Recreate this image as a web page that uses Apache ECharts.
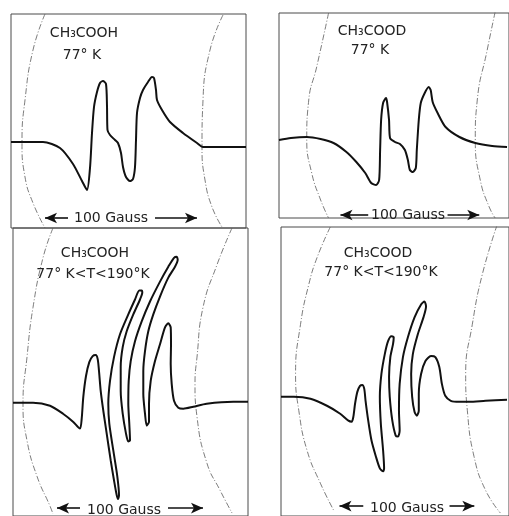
<!DOCTYPE html>
<html>
<head>
<meta charset="utf-8">
<script src="https://cdn.jsdelivr.net/npm/echarts@6/dist/echarts.min.js"></script>
<style>html,body{margin:0;padding:0;background:#fff}#c{width:509px;height:516px}</style>
</head>
<body>
<div id="c"></div>
<script>
// Panel-local values: [field position, signal] in chart-paper units
const tlCurve = [[0,86],[32,86],[49,80],[62,64],[71,47],[76,38],[79,60],[81,95],[83,121],[86,136],[89,145],[92,147],[95,144],[96,122],[96.5,98],[99,93],[104,88],[107,85],[110,75],[112,61],[115,51],[119,47],[122,49],[124,61],[125,88],[126,115],[129,130],[132,138],[137,146],[141,151],[143,150],[145,138],[146,128],[151,118],[159,106],[172,95],[186,85],[192,81],[206,81],[235,81]];
const tlArcL = [[34,214],[22,178],[14,128],[11,86],[14,51],[22,25],[34,0]];
const tlArcR = [[212,213],[199,178],[192,128],[191,81],[194,48],[201,21],[211,1]];

const trCurve = [[0,78],[12,80],[28,81],[42,79],[55,75],[68,66],[78,56],[87,45],[93,35],[98,33],[101,38],[102,68],[103,98],[105,115],[108,120],[109,116],[111,98],[112,80],[117,76],[122,74],[127,68],[130,58],[132,48],[135,46],[138,50],[139,68],[141,98],[143,115],[147,125],[151,131],[153,128],[155,116],[160,105],[168,91],[182,81],[198,75],[215,72],[230,71]];
const trArcL = [[50,205],[38,151],[30,118],[28,78],[33,45],[42,18],[50,0]];
const trArcR = [[218,206],[210,168],[200,118],[198,78],[203,38],[212,11],[218,0]];

const blCurve = [[0,112],[20,112],[37,109],[50,101],[60,93],[67,86],[68.7,96],[70.3,118],[73,139],[76.3,153],[79.7,159],[82.7,160],[84.7,156],[86,144],[87.7,124],[90.3,104],[93.7,81],[97.7,54],[101,34],[103.7,19],[105,15],[106,19],[104.3,38],[100.3,64],[96.3,91],[95.3,111],[97,134],[101,158],[107,181],[115.3,201],[122,216],[126.3,225],[128.7,225],[129.3,223],[127,216],[120.3,201],[113.7,184],[109.7,168],[107.7,148],[107.7,124],[109.7,101],[113,81],[115.3,73],[117,74],[116.3,91],[115.3,111],[115.7,134],[117.7,154],[122,174],[128.7,194],[137,214],[147,234],[155.3,249],[161,258],[163.7,259],[164.7,256],[162,249],[155.3,238],[147,219],[140.3,201],[135.3,184],[132,164],[130.3,144],[130.3,121],[132,101],[133.7,89],[136,93],[136,111],[137.7,134],[142,154],[147,171],[152,188],[155.3,192],[157.7,188],[158,171],[157.7,151],[158.7,131],[161,114],[165.3,107],[170.3,106],[180.3,108],[193.7,111],[220.3,113],[235,113]];
const blArcL = [[40,288],[30,258],[20,208],[14,158],[10,111],[14,74],[24,38],[37,8],[40,0]];
const blArcR = [[219,288],[204,251],[190,208],[184,158],[182,131],[184,98],[194,51],[207,24],[219,1]];

const brCurve = [[0,118],[13,118],[29.7,116],[46.3,109],[59.7,101],[68,94],[71.3,93],[73,98],[74.7,111],[77,123],[79.7,129],[82,130],[84,126],[85.3,114],[88,94],[91.3,74],[95.7,58],[99.7,46],[103,43],[104,46],[103,64],[100.7,91],[99.7,118],[101.3,141],[104.7,161],[108,174],[111.3,179],[113.7,178],[113,171],[110.3,158],[109,138],[109.7,118],[112.3,94],[115.7,79],[118,78],[119.7,84],[119,104],[119.7,131],[123,158],[128,178],[134.7,198],[141.3,211],[144.7,214],[146.3,209],[143.7,198],[138,181],[133,161],[131.3,141],[132.3,118],[134.7,103],[137,99],[139,104],[139,121],[141.3,141],[145.7,154],[151.3,159],[155.7,158],[159.7,148],[162.3,131],[165.7,119],[171.3,114],[179.7,113],[189.7,113],[206.3,114],[228,115]];
const brArcL = [[49.7,289],[36.3,258],[28,231],[19.7,191],[14.7,141],[18,104],[26.3,64],[39.7,31],[53,4]];
const brArcR = [[218,291],[203,241],[193,191],[186.3,141],[188,104],[194.7,58],[206.3,24],[221.3,1]];

// 100 Gauss scale bars: [signal level, left tip, left shaft end, right shaft start, right tip]
const tlScale = [10, 34, 57, 144, 186];
const trScale = [3, 62, 90, 170, 202];
const blScale = [6, 44, 67, 155, 190];
const brScale = [8, 59, 83, 170, 195];

const labels = ['CH\u2083COOH', 'CH\u2083COOD', '77\u00b0 K', '77\u00b0 K<T<190\u00b0K', '100 Gauss'];

const chart = echarts.init(document.getElementById('c'), null, {renderer: 'canvas'});

const grids = [
  {left: 11, top: 14, width: 235, height: 214},
  {left: 279, top: 13, width: 232, height: 205},
  {left: 13, top: 228, width: 235, height: 290},
  {left: 281, top: 227, width: 230, height: 291}
].map(g => Object.assign(g, {show: true, borderColor: '#4a4a4a', borderWidth: 1, backgroundColor: 'transparent', containLabel: false}));

const xr = [[0,235],[0,232],[0,235],[0,230]];
const yr = [[0,214],[0,205],[-2,288],[-2,289]];

function arrowMark(s) {
  const y = s[0];
  return {
    silent: true, symbol: ['none', 'arrow'], symbolSize: [8, 12],
    lineStyle: {color: '#111', width: 1.6, type: 'solid'},
    label: {show: false}, emphasis: {disabled: true},
    data: [
      [{coord: [s[2], y]}, {coord: [s[1], y]}],
      [{coord: [s[3], y]}, {coord: [s[4], y]}]
    ]
  };
}

const curves = [tlCurve, trCurve, blCurve, brCurve];
const arcs = [[tlArcL, tlArcR], [trArcL, trArcR], [blArcL, blArcR], [brArcL, brArcR]];
const scales = [tlScale, trScale, blScale, brScale];

const series = [];
for (let i = 0; i < 4; i++) {
  arcs[i].forEach(a => series.push({
    type: 'line', xAxisIndex: i, yAxisIndex: i, data: a, showSymbol: false, smooth: 0.5,
    silent: true, lineStyle: {color: '#5a5a5a', width: 0.8, type: [6, 2, 1, 2]}
  }));
  series.push({
    type: 'line', xAxisIndex: i, yAxisIndex: i, data: curves[i], showSymbol: false, smooth: 0.25,
    silent: true, lineStyle: {color: '#111', width: 2}, markLine: arrowMark(scales[i])
  });
}

const font = '"DejaVu Sans", sans-serif';
function txt(t, x, y, size) {
  return {type: 'text', style: {text: t, x: x, y: y, fill: '#222', font: 'normal ' + (size || 14) + 'px ' + font, textAlign: 'center', textVerticalAlign: 'middle'}};
}

chart.setOption({
  animation: false,
  grid: grids,
  xAxis: xr.map((r, i) => ({type: 'value', gridIndex: i, min: r[0], max: r[1], show: false})),
  yAxis: yr.map((r, i) => ({type: 'value', gridIndex: i, min: r[0], max: r[1], show: false})),
  series: series,
  graphic: [
    txt(labels[0], 84, 33), txt(labels[2], 82, 55),
    txt(labels[1], 372, 31), txt(labels[2], 370, 50),
    txt(labels[0], 95, 253), txt(labels[3], 93, 274),
    txt(labels[1], 378, 253), txt(labels[3], 381, 272),
    txt(labels[4], 111, 218), txt(labels[4], 408, 215),
    txt(labels[4], 124, 510), txt(labels[4], 407, 508)
  ]
});
</script>
</body>
</html>
